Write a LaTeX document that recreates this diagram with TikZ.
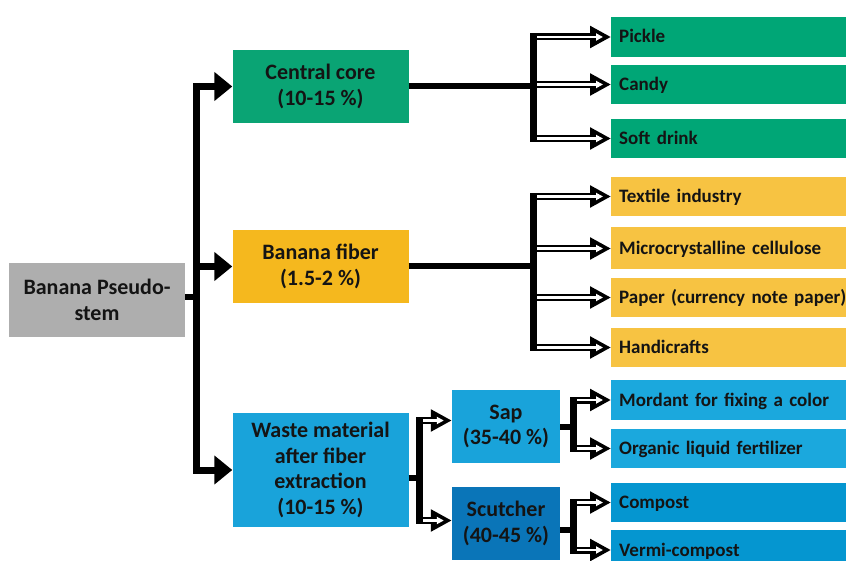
\documentclass[tikz,border=0pt]{standalone}
\usepackage{fontspec}
\setmainfont{Carlito}
\usetikzlibrary{arrows.meta,calc}
\definecolor{cgray}{HTML}{AEAEAE}
\definecolor{cgreen}{HTML}{0AA474}
\definecolor{igreen}{HTML}{00A676}
\definecolor{cgold}{HTML}{F5B81E}
\definecolor{igold}{HTML}{F7C342}
\definecolor{cblue}{HTML}{19A3DA}
\definecolor{iblue}{HTML}{1BA8DD}
\definecolor{dblue}{HTML}{0A75B8}
\definecolor{jblue}{HTML}{0596D0}
\definecolor{ctext}{HTML}{141414}
\begin{document}
\begin{tikzpicture}[x=1pt,y=-1pt,
  box/.style={rectangle, inner sep=0pt, align=center, text=ctext,
    font=\bfseries\fontsize{22}{25.5}\selectfont},
  item/.style={rectangle, anchor=west, inner ysep=0pt, inner xsep=8pt,
    text width=240pt, align=left, text height=15pt, text depth=3pt, text=ctext,
    font=\bfseries\fontsize{19}{24}\selectfont},
  mainline/.style={line width=7pt, line cap=rect},
  stub/.style={line width=6pt},
  bigarrow/.style={line width=7pt, line join=miter, -{Triangle[length=18pt,width=28pt]}},
  hollow/.style={line width=7pt, -{Triangle[length=21pt,width=21pt]},
    postaction={draw=white, line width=2.2pt, shorten >=8pt, -{Triangle[length=7pt,width=7pt]}}}
]
\useasboundingbox (0,0) rectangle (846,561);
\fill[white] (0,0) rectangle (846,561);
\clip (0,0) rectangle (846,561);

% main boxes
\node[box, fill=cgray, minimum width=176pt, minimum height=74pt] (stem) at (97,300) {Banana Pseudo-\\stem};
\node[box, fill=cgreen, minimum width=176pt, minimum height=73pt] (core) at (320.5,86.5) {Central core\\(10-15 \%)};
\node[box, fill=cgold, minimum width=176pt, minimum height=73pt] (fiber) at (320.5,266.5) {Banana fiber\\(1.5-2 \%)};
\node[box, fill=cblue, minimum width=176pt, minimum height=114pt] (waste) at (320.5,470) {Waste material\\after fiber\\extraction\\(10-15 \%)};
\node[box, fill=cblue, minimum width=108pt, minimum height=73pt] (sap) at (506,426.5) {Sap\\(35-40 \%)};
\node[box, fill=dblue, minimum width=108pt, minimum height=73pt] (scut) at (506,523.5) {Scutcher\\(40-45 \%)};

% items
\node[item, fill=igreen, minimum height=40pt] (pickle) at (611,37) {Pickle};
\node[item, fill=igreen, minimum height=39pt] (candy) at (611,84.5) {Candy};
\node[item, fill=igreen, minimum height=39pt] (soft) at (611,138.5) {Soft drink};
\node[item, fill=igold, minimum height=39pt] (textile) at (611,196.5) {Textile industry};
\node[item, fill=igold, minimum height=42pt] (micro) at (611,248.5) {Microcrystalline cellulose};
\node[item, fill=igold, minimum height=39pt] (paper) at (611,297.5) {Paper (currency note paper)};
\node[item, fill=igold, minimum height=39pt] (handi) at (611,347.5) {Handicrafts};
\node[item, fill=iblue, minimum height=40pt] (mordant) at (611,400) {Mordant for fixing a color};
\node[item, fill=iblue, minimum height=39pt] (organic) at (611,448.5) {Organic liquid fertilizer};
\node[item, fill=jblue, minimum height=39pt] (compost) at (611,502.5) {Compost};
\node[item, fill=jblue, minimum height=40pt] (vermi) at (611,550) {Vermi-compost};

% junction coordinates
\coordinate (t) at (196.5,297);
\coordinate (c1) at (533.5,86.5);
\coordinate (c2) at (533.5,266.5);
\coordinate (w) at (419,478);
\coordinate (s1) at (573.5,427);
\coordinate (s2) at (573.5,530);
\coordinate (sapin) at ($(sap.west)+(0,-6)$);
\coordinate (scutin) at ($(scut.west)+(0,-3)$);

% trunk
\draw[stub] (stem.east |- t) -- (t);
\draw[bigarrow] ([yshift=-3.5pt]t |- waste.west) |- (core.west);
\draw[bigarrow] (t |- fiber.west) -- (fiber.west);
\draw[bigarrow] ([yshift=3.5pt]t |- core.west) |- (waste.west);

% central core group
\draw[stub] (core.east) -- (c1);
\draw[hollow] (c1 |- pickle.west) -- (pickle.west);
\draw[hollow] (c1 |- candy.west) -- (candy.west);
\draw[hollow] (c1 |- soft.west) -- (soft.west);
\draw[mainline] (c1 |- pickle.west) -- (c1 |- soft.west);

% fiber group
\draw[stub] (fiber.east) -- (c2);
\draw[hollow] (c2 |- textile.west) -- (textile.west);
\draw[hollow] (c2 |- micro.west) -- (micro.west);
\draw[hollow] (c2 |- paper.west) -- (paper.west);
\draw[hollow] (c2 |- handi.west) -- (handi.west);
\draw[mainline] (c2 |- textile.west) -- (c2 |- handi.west);

% waste group
\draw[stub] (waste.east |- w) -- (w);
\draw[hollow] (w |- sapin) -- (sapin);
\draw[hollow] (w |- scutin) -- (scutin);
\draw[mainline] (w |- sapin) -- (w |- scutin);

% sap group
\draw[stub] (sap.east |- s1) -- (s1);
\draw[hollow] (s1 |- mordant.west) -- (mordant.west);
\draw[hollow] (s1 |- organic.west) -- (organic.west);
\draw[mainline] (s1 |- mordant.west) -- (s1 |- organic.west);

% scutcher group
\draw[stub] (scut.east |- s2) -- (s2);
\draw[hollow] (s2 |- compost.west) -- (compost.west);
\draw[hollow] (s2 |- vermi.west) -- (vermi.west);
\draw[mainline] (s2 |- compost.west) -- (s2 |- vermi.west);
\end{tikzpicture}
\end{document}
